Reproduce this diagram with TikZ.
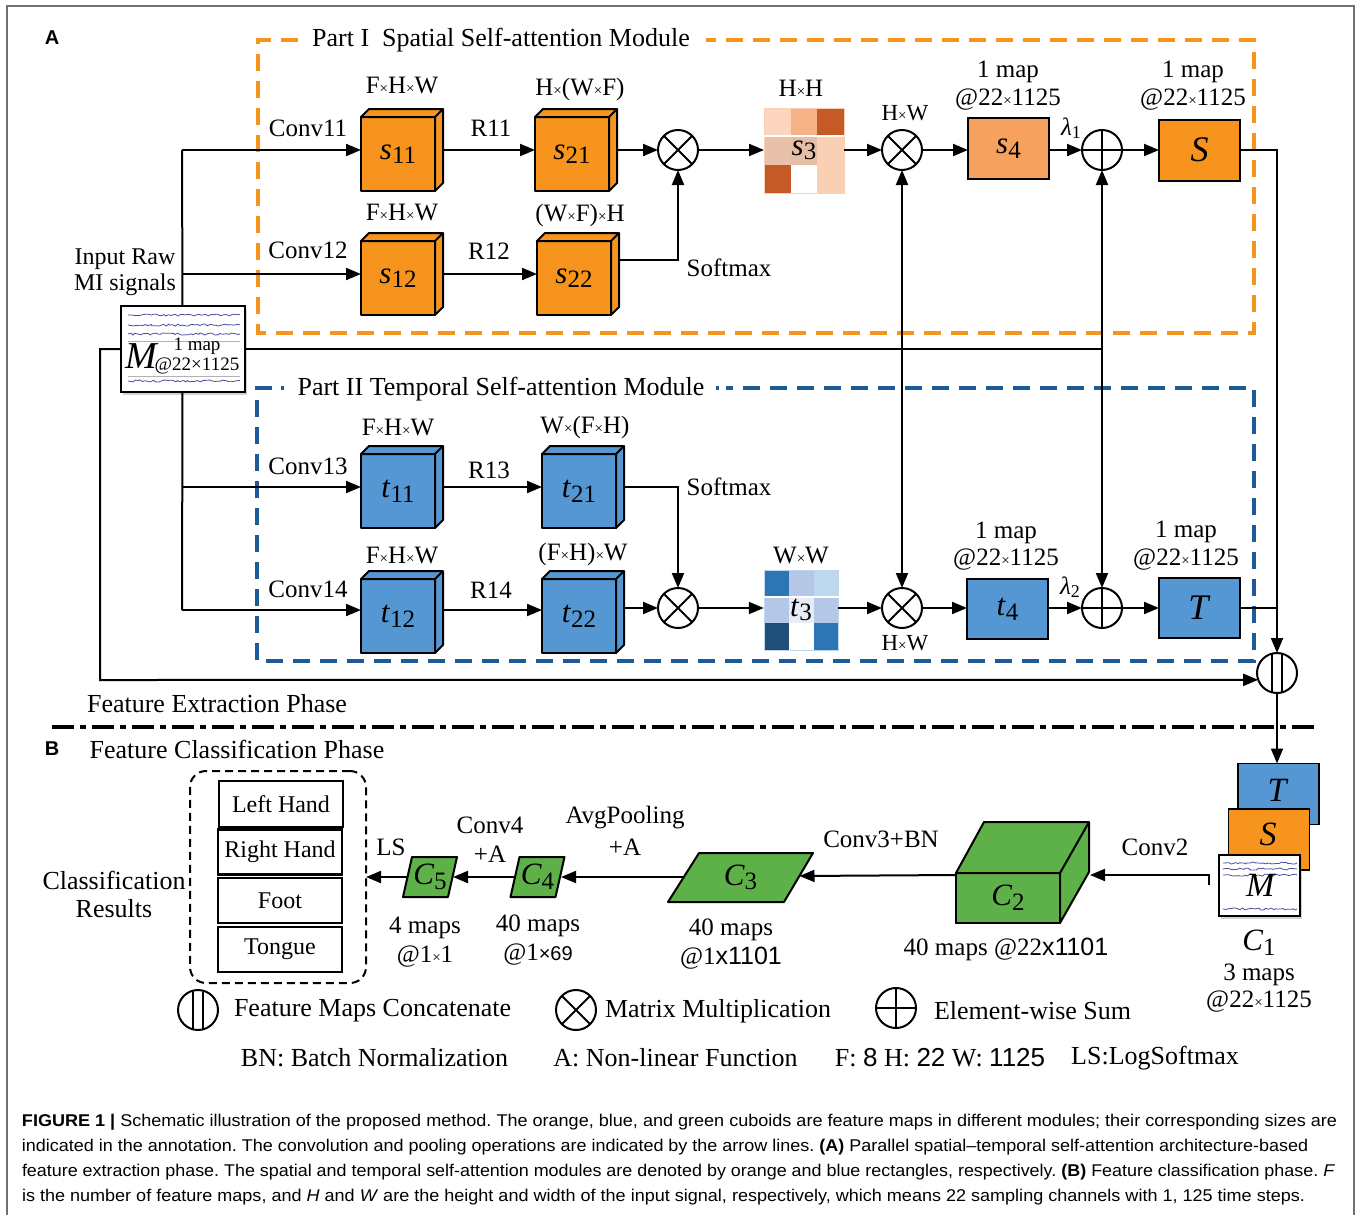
\documentclass[tikz,border=0pt]{standalone}
\usepackage{fontspec}
\usepackage{graphicx}
\setmainfont{Liberation Serif}
\setsansfont{Liberation Sans}
\usetikzlibrary{arrows.meta,shadows,decorations.pathmorphing,calc}
\frenchspacing

\definecolor{orng}{HTML}{F7941D}
\definecolor{orngl}{HTML}{F6A25E}
\definecolor{blu}{HTML}{5497D3}
\definecolor{bludash}{HTML}{1D5A96}
\definecolor{grn}{HTML}{5DB148}
\definecolor{framegray}{HTML}{707070}
\definecolor{sig}{HTML}{4B4FA6}
% spatial attention map
\definecolor{hA}{HTML}{FBD5BE}
\definecolor{hB}{HTML}{F4B286}
\definecolor{hC}{HTML}{C55A27}
\definecolor{hD}{HTML}{E9C1AA}
\definecolor{hE}{HTML}{E6BEA5}
\definecolor{hF}{HTML}{F9D0B4}
% temporal attention map
\definecolor{bA}{HTML}{2E75B6}
\definecolor{bB}{HTML}{B4C7E7}
\definecolor{bC}{HTML}{BDD7EE}
\definecolor{bD}{HTML}{E7EDF6}
\definecolor{bE}{HTML}{1F4E79}

\newcommand\fsz[1]{\fontsize{#1}{#1}\selectfont}
\newcommand\sx{{\fsz{15}×}}
\newcommand\cubelbl[2]{{\fsz{31}\textit{#1}\raisebox{-0.32ex}{\fsz{25}#2}}}
\newcommand\biglbl[1]{{\fsz{36}\textit{#1}}}
\newcommand\cubefaces[3]{%
  \draw[cubeline, fill=#2] (#1.north west) -- ++(#3,-#3) -- ($(#1.north east)+(#3,-#3)$)
     -- ($(#1.south east)+(#3,-#3)$) -- (#1.south east) -- (#1.north east) -- cycle;
  \draw[cubeline] (#1.north east) -- ++(#3,-#3);}

\begin{document}
\begin{tikzpicture}[x=1pt,y=-1pt, font=\fsz{25},
  every node/.style={inner sep=0pt, outer sep=0pt},
  conn/.style={line width=2pt},
  arr/.style={conn, -{Triangle[length=15pt,width=12pt]}},
  darr/.style={conn, {Triangle[length=15pt,width=12pt]}-{Triangle[length=15pt,width=12pt]}},
  cubeline/.style={line width=2pt, line join=round},
  cube/.style={draw, line width=2pt, line join=round, minimum width=74pt, minimum height=74pt},
  flat/.style={draw, line width=2pt, minimum width=81pt, minimum height=61pt},
  opbase/.style={circle, draw, line width=2pt, minimum size=40pt, fill=white},
  mult/.style={opbase, path picture={\draw[line width=2pt]
      (path picture bounding box.north west) -- (path picture bounding box.south east)
      (path picture bounding box.north east) -- (path picture bounding box.south west);}},
  plus/.style={opbase, path picture={\draw[line width=2pt]
      (path picture bounding box.north) -- (path picture bounding box.south)
      (path picture bounding box.west) -- (path picture bounding box.east);}},
  cat/.style={opbase, path picture={\draw[line width=2pt]
      ([xshift=-5pt]path picture bounding box.north) -- ([xshift=-5pt]path picture bounding box.south)
      ([xshift=5pt]path picture bounding box.north) -- ([xshift=5pt]path picture bounding box.south);}},
  odash/.style={draw=orng, line width=3.5pt, dash pattern=on 17pt off 10pt},
  bdash/.style={draw=bludash, line width=3.5pt, dash pattern=on 17pt off 10pt},
  wave/.style={sig, line width=0.8pt, decorate, decoration={random steps, segment length=2.5pt, amplitude=1.1pt}},
  thinrule/.style={gray!60, line width=0.6pt},
  resbox/.style={draw, line width=2.2pt, minimum width=124pt, minimum height=45pt, font=\fsz{24}},
  card/.style={draw, line width=1.8pt, minimum width=81pt, minimum height=61pt},
  shad/.style={drop shadow={shadow xshift=2pt, shadow yshift=-3pt, opacity=0.35}},
  captext/.style={anchor=west, font=\fsz{17}\sffamily}
]
\pgfmathsetseed{11}
\useasboundingbox (0,0) rectangle (1357,1215);

% frame
\draw[framegray, line width=1.5pt] (7,1215) -- (7,6) -- (1354,6) -- (1354,1215);
\node (lA) at (52,38) {\fsz{20}\sffamily\bfseries A};

% ---------- Part I box ----------
\coordinate (pItl) at (258,40);
\coordinate (pIbr) at (1254,333);
\node[font=\fsz{26}] (tI) at (501,40) {Part I\hspace{13pt}Spatial Self-attention Module};
\draw[odash] (298,40) -- (pItl) -- (pItl |- pIbr) -- (pIbr) -- (pIbr |- pItl) -- (706,40);

% ---------- Part II box ----------
\coordinate (pIItl) at (257,388);
\coordinate (pIIbr) at (1254,661);
\node[font=\fsz{26}] (tII) at (501,389) {Part II Temporal Self-attention Module};
\draw[bdash] (272,388) -- (pIItl) -- (pIItl |- pIIbr) -- (pIIbr) -- (pIIbr |- pIItl) -- (726,388);
\draw[bludash, line width=3.5pt] (280.5,388) -- (284,388) (715.5,388) -- (719,388);

% ---------- input M ----------
\node[draw, fill=white, line width=2pt, minimum width=124pt, minimum height=86pt, shad] (M) at (182.5,349) {};
\draw[wave] (128,315) -- (240,315);
\draw[wave] (128,325) -- (240,325);
\draw[wave] (128,334) -- (240,334);
\draw[thinrule] (128,341) -- (240,341);
\draw[thinrule] (128,376) -- (240,376);
\draw[wave] (128,381) -- (240,381);
\node (Mlbl) at (142,356) {\fsz{38}\textit{M}};
\node (Mmap) at (197,346) {\fsz{19}1 map};
\node (Msize) at (197,366) {\fsz{19}@22×1125};
\node[font=\fsz{24}] (lin1) at (125,259) {Input Raw};
\node[font=\fsz{24}] (lin2) at (125,285) {MI signals};

\coordinate (j1) at (182,150);
\coordinate (j2) at (182,274);
\coordinate (j3) at (182,487);
\coordinate (j4) at (182,610);

% ---------- spatial branch ----------
\node[cube, fill=orng] (s11) at (398,154) {\cubelbl{s}{11}};
\cubefaces{s11}{orng}{8}
\node[cube, fill=orng] (s21) at (572,154) {\cubelbl{s}{21}};
\cubefaces{s21}{orng}{8}
\node[cube, fill=orng] (s12) at (398,278) {\cubelbl{s}{12}};
\cubefaces{s12}{orng}{8}
\node[cube, fill=orng] (s22) at (574,278) {\cubelbl{s}{22}};
\cubefaces{s22}{orng}{8}

\node (lF11) at (402,86) {F\sx H\sx W};
\node (lHWF) at (580,89) {H\sx(W\sx F)};
\node (lF12) at (402,213) {F\sx H\sx W};
\node (lWFH) at (580,215) {(W\sx F)\sx H};
\node (lc11) at (308,128) {Conv11};
\node (lr11) at (491,128) {R11};
\node (lc12) at (308,250) {Conv12};
\node (lr12) at (489,251) {R12};
\node (lsm1) at (729,268) {Softmax};

\node[mult] (ox1) at (678,150) {};
\foreach \c/\r/\hc in {0/0/hA,1/0/hB,2/0/hC,0/1/hD,1/1/hE,2/1/hF,0/2/hC,1/2/white,2/2/hF}
  \fill[\hc] (764+\c*26.67, 108+\r*28.33) rectangle ++(26.67,28.33);
\draw[hF, line width=1pt] (764,108) rectangle (844,193);
\draw[white, line width=2pt] (764,136.3) -- (844,136.3);
\node[minimum width=80pt, minimum height=85pt] (s3) at (804,150.5) {\cubelbl{s}{3}};
\node (lHH) at (801,88) {H\sx H};
\node[mult] (ox2) at (902,150) {};
\node[font=\fsz{23}] (lHW1) at (905,113) {H\sx W};
\node[flat, fill=orngl] (s4) at (1008.5,148.5) {\cubelbl{s}{4}};
\node (l1m1) at (1008,72) {1 map};
\node (l1m1b) at (1008,100) {@22\sx 1125};
\node (llam1) at (1071,128) {\textit{λ}\raisebox{-0.3ex}{\fsz{18}1}};
\node[plus] (op1) at (1102,150) {};
\node[flat, fill=orng] (Sb) at (1199.5,150) {\biglbl{S}};
\node (l1m2) at (1193,72) {1 map};
\node (l1m2b) at (1193,100) {@22\sx 1125};

% ---------- temporal branch ----------
\node[cube, fill=blu] (t11) at (398,491) {\cubelbl{t}{11}};
\cubefaces{t11}{blu}{8}
\node[cube, fill=blu] (t21) at (579,491) {\cubelbl{t}{21}};
\cubefaces{t21}{blu}{8}
\node[cube, fill=blu] (t12) at (398,616) {\cubelbl{t}{12}};
\cubefaces{t12}{blu}{8}
\node[cube, fill=blu] (t22) at (579,616) {\cubelbl{t}{22}};
\cubefaces{t22}{blu}{8}

\node (lF13) at (398,427) {F\sx H\sx W};
\node (lWFH2) at (585,427) {W\sx(F\sx H)};
\node (lF14) at (402,555) {F\sx H\sx W};
\node (lFHW) at (583,554) {(F\sx H)\sx W};
\node (lc13) at (308,466) {Conv13};
\node (lr13) at (489,470) {R13};
\node (lc14) at (308,589) {Conv14};
\node (lr14) at (491,590) {R14};
\node (lsm2) at (729,487) {Softmax};

\node[mult] (ox3) at (678,608) {};
\foreach \c/\r/\hc in {0/0/bA,1/0/bB,2/0/bC,0/1/bB,1/1/bD,2/1/bB,0/2/bE,1/2/white,2/2/bA}
  \fill[\hc] (764+\c*24.83, 570+\r*26.67) rectangle ++(24.83,26.67);
\draw[bC, line width=1pt] (764,570) rectangle (838.5,650);
\draw[white, line width=2pt] (764,596.7) -- (838.5,596.7);
\node[minimum width=74.5pt, minimum height=80pt] (t3) at (801,610) {\cubelbl{t}{3}};
\node (lWW) at (801,555) {W\sx W};
\node[mult] (ox4) at (902,608) {};
\node[font=\fsz{23}] (lHW2) at (905,643) {H\sx W};
\node[flat, fill=blu, minimum height=60pt] (t4) at (1007.5,609) {\cubelbl{t}{4}};
\node (l1m3) at (1006,533) {1 map};
\node (l1m3b) at (1006,560) {@22\sx 1125};
\node (llam2) at (1070,587) {\textit{λ}\raisebox{-0.3ex}{\fsz{18}2}};
\node[plus] (op2) at (1102,608) {};
\node[flat, fill=blu, minimum height=60pt] (Tb) at (1199.5,608) {\biglbl{T}};
\node (l1m4) at (1186,532) {1 map};
\node (l1m4b) at (1186,560) {@22\sx 1125};

\node[cat] (cc) at (1277,673) {};

% ---------- connectors, part A ----------
\draw[conn] (j1) -- (M.north);
\draw[conn] (M.south) -- (j4);
\draw[arr] (j1) -- (s11.west |- j1);
\draw[arr] (j2) -- (s12.west |- j2);
\draw[arr] (j3) -- (t11.west |- j3);
\draw[arr] (j4) -- (t12.west |- j4);

\draw[arr] ($(s11.east |- j1)+(8,0)$) -- (s21.west |- j1);
\draw[arr] ($(s21.east |- j1)+(8,0)$) -- (ox1);
\coordinate (sm1) at (678,260);
\draw[arr] ($(s12.east |- j2)+(8,0)$) -- (s22.west |- j2);
\draw[arr] ($(s22.east |- sm1)+(8,0)$) -- (sm1) -- (ox1);
\draw[arr] (ox1) -- (s3.west |- ox1);
\draw[arr] (s3.east |- ox2) -- (ox2);
\draw[arr] (ox2) -- (s4.west |- ox2);
\draw[arr] (s4.east |- op1) -- (op1);
\draw[arr] (op1) -- (Sb.west |- op1);

\coordinate (sm2) at (678,487);
\draw[arr] ($(t11.east |- j3)+(8,0)$) -- (t21.west |- j3);
\draw[arr] ($(t21.east |- j3)+(8,0)$) -- (sm2) -- (ox3);
\draw[arr] ($(t12.east |- j4)+(8,0)$) -- (t22.west |- j4);
\draw[arr] ($(t22.east |- ox3)+(8,0)$) -- (ox3);
\draw[arr] (ox3) -- (t3.west |- ox3);
\draw[arr] (t3.east |- ox4) -- (ox4);
\draw[arr] (ox4) -- (t4.west |- ox4);
\draw[arr] (t4.east |- op2) -- (op2);
\draw[arr] (op2) -- (Tb.west |- op2);

\coordinate (mj) at (1102,349);
\draw[conn] (M.east) -- (mj);
\draw[darr] (op1) -- (op2);
\draw[darr] (ox2) -- (ox4);

\coordinate (sturn) at (1277,150);
\coordinate (tjoin) at (1277,608);
\draw[arr] (Sb.east |- sturn) -- (sturn) -- (cc);
\draw[conn] (Tb.east |- tjoin) -- (tjoin);
\coordinate (fl1) at (100,349);
\coordinate (fl2) at (100,680);
\draw[arr] (M.west) -- (fl1) -- (fl2) -- (cc.200);

\node[font=\fsz{26}] (lfep) at (217,704) {Feature Extraction Phase};
\draw[line width=3.5pt, dash pattern=on 22pt off 6pt on 6pt off 6pt] (52,727) -- (1318,727);

% ---------- Part B ----------
\node (lB) at (52,749) {\fsz{20}\sffamily\bfseries B};
\node[font=\fsz{26}] (lfcp) at (237,749) {Feature Classification Phase};

% C1 stack
\node[card, fill=blu] (Tc) at (1278.3,794) {};
\node[card, fill=orng] (Sc) at (1269,839.5) {};
\node[card, fill=white, shad] (Mc) at (1259.7,885.5) {};
\node (Tcl) at (1278,790) {\fsz{34}\textit{T}};
\node (Scl) at (1268,834) {\fsz{34}\textit{S}};
\draw[wave] (1223,863) -- (1297,863);
\draw[wave] (1223,869) -- (1297,869);
\draw[wave] (1223,875) -- (1297,875);
\draw[wave] (1223,909) -- (1297,909);
\node (Mcl) at (1261,885) {\fsz{34}\textit{M}};
\draw[arr] (cc.south) -- (cc.south |- Tc.north);
\node (lC1) at (1259,943) {\cubelbl{C}{1}};
\node (lC1a) at (1259,975) {3 maps};
\node (lC1b) at (1259,1002) {@22\sx 1125};

% C2 cuboid
\node[draw, line width=2pt, fill=grn, minimum width=104pt, minimum height=50pt] (C2) at (1008,898) {\cubelbl{C}{2}};
\draw[cubeline, fill=grn] (C2.north west) -- ++(28,-51) -- ($(C2.north east)+(29,-51)$)
   -- ($(C2.south east)+(29,-51)$) -- (C2.south east) -- (C2.north east) -- cycle;
\draw[cubeline] (C2.north east) -- ++(29,-51);
\node (lC2) at (1006,949) {40 maps @22{\sffamily x1101}};

% C3, C4, C5 slanted maps
\node[minimum width=100pt, minimum height=49pt] (C3) at (740.5,877.5) {};
\draw[cubeline, fill=grn] ($(C3)+(-72.5,24.5)$) -- ($(C3)+(43.5,24.5)$) -- ($(C3)+(72.5,-24.5)$) -- ($(C3)+(-41.5,-24.5)$) -- cycle;
\node (C3l) at (740.5,877.5) {\cubelbl{C}{3}};
\node (lC3a) at (731,930) {40 maps};
\node (lC3b) at (731,958) {@1{\sffamily x1101}};

\node[minimum width=46pt, minimum height=40pt] (C4) at (537.5,877) {};
\draw[cubeline, fill=grn] ($(C4)+(-27,20)$) -- ($(C4)+(18,20)$) -- ($(C4)+(27,-20)$) -- ($(C4)+(-18,-20)$) -- cycle;
\node (C4l) at (537.5,877) {\cubelbl{C}{4}};
\node (lC4a) at (538,926) {40 maps};
\node (lC4b) at (538,955) {@1{\sffamily\fsz{20}×69}};

\node[minimum width=46pt, minimum height=40pt] (C5) at (430,877) {};
\draw[cubeline, fill=grn] ($(C5)+(-27,20)$) -- ($(C5)+(18,20)$) -- ($(C5)+(27,-20)$) -- ($(C5)+(-18,-20)$) -- cycle;
\node (C5l) at (430,877) {\cubelbl{C}{5}};
\node (lC5a) at (425,928) {4 maps};
\node (lC5b) at (425,957) {@1\sx 1};

% classification results
\node[draw, dash pattern=on 8pt off 5pt, line width=2pt, rounded corners=16pt, minimum width=176pt, minimum height=212pt] (res) at (278,877) {};
\node[resbox, minimum height=46pt] (rLH) at (281,804) {Left Hand};
\node[resbox] (rRH) at (280,852) {Right Hand};
\node[resbox] (rFo) at (280,900.5) {Foot};
\node[resbox] (rTo) at (280,949.5) {Tongue};
\node[font=\fsz{26}] (lcr1) at (114,880) {Classification};
\node[font=\fsz{26}] (lcr2) at (114,909) {Results};

% part B arrows and labels
\coordinate (c1a) at (1209,885);
\coordinate (c1b) at (1209,875);
\coordinate (c2in) at (1090,875);
\draw[arr] (c1a) -- (c1b) -- (c2in);
\node (lconv2) at (1155,847) {Conv2};
\draw[arr] (C2.west |- c2in) -- ($(C3)+(59,-1.5)$);
\node (lconv3) at (881,839) {Conv3+BN};
\draw[arr] ($(C3)+(-57,-0.5)$) -- ($(C4)+(23.5,0)$);
\node (lavg1) at (625,818) {AvgPooling};
\node (lavg2) at (625,847) {+A};
\draw[arr] ($(C4)+(-23,0)$) -- ($(C5)+(23,0)$);
\node (lconv4a) at (490,825) {Conv4};
\node (lconv4b) at (490,854) {+A};
\draw[arr] ($(C5)+(-23,0)$) -- (res.east |- C5);
\node (lLS) at (391,847) {LS};

% legend
\node[cat] (gcat) at (198,1010) {};
\node[anchor=west, font=\fsz{26}] (gcatl) at (234,1011) {Feature Maps Concatenate};
\node[mult] (gmul) at (576,1010) {};
\node[anchor=west, font=\fsz{26}] (gmull) at (605,1011) {Matrix Multiplication};
\node[plus] (gsum) at (896,1008) {};
\node[anchor=west, font=\fsz{26}] (gsuml) at (934,1011) {Element-wise Sum};
\node[font=\fsz{26}] (gbn) at (374.5,1058) {BN: Batch Normalization};
\node[font=\fsz{26}] (ga) at (675.5,1058) {A: Non-linear Function};
\node[font=\fsz{26}] (gfhw) at (940,1058) {F: {\sffamily 8} H: {\sffamily 22} W: {\sffamily 1125}};
\node[font=\fsz{26}] (gls) at (1155,1058) {LS:LogSoftmax};

% caption
\node[captext] (cap1) at (22,1122) {\resizebox{1315pt}{\height}{\textbf{FIGURE 1 |} Schematic illustration of the proposed method. The orange, blue, and green cuboids are feature maps in different modules; their corresponding sizes are}};
\node[captext] (cap2) at (22,1147) {\resizebox{1286pt}{\height}{indicated in the annotation. The convolution and pooling operations are indicated by the arrow lines. \textbf{(A)} Parallel spatial–temporal self-attention architecture-based}};
\node[captext] (cap3) at (22,1172) {\resizebox{1313pt}{\height}{feature extraction phase. The spatial and temporal self-attention modules are denoted by orange and blue rectangles, respectively. \textbf{(B)} Feature classification phase. \textit{F}}};
\node[captext] (cap4) at (22,1197) {\resizebox{1283pt}{\height}{is the number of feature maps, and \textit{H} and \textit{W} are the height and width of the input signal, respectively, which means 22 sampling channels with 1, 125 time steps.}};
\end{tikzpicture}
\end{document}
